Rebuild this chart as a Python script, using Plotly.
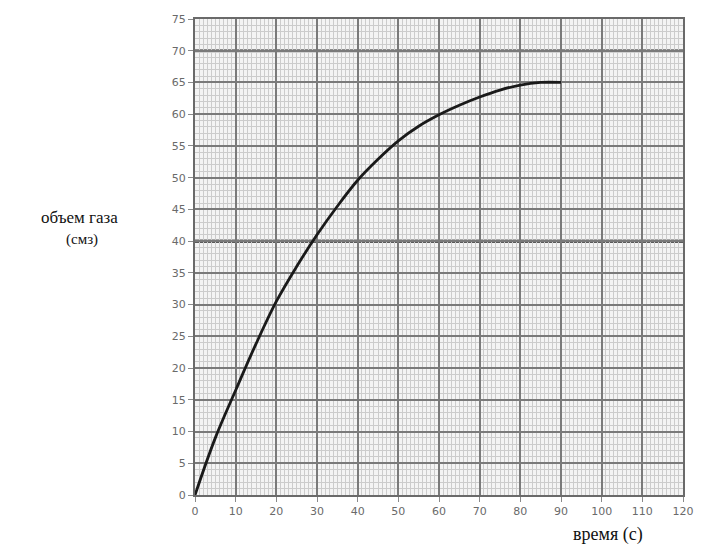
import plotly.graph_objects as go

time_s = [0, 5, 10, 15, 20, 25, 30, 35, 40, 45, 50, 55, 60, 65, 70, 75, 80, 85, 90]
gas_volume = [0, 9, 16.5, 23.8, 30.5, 36, 41, 45.5, 49.6, 52.9, 55.8, 58.1, 59.9, 61.4, 62.7, 63.8, 64.6, 65, 65]

x_ticks = list(range(0, 121, 10))
y_ticks = list(range(0, 76, 5))

fig = go.Figure()
fig.add_trace(go.Scatter(
    x=time_s, y=gas_volume, mode="lines",
    line=dict(color="#1a1a1a", width=2.8, shape="spline"),
    hoverinfo="skip", showlegend=False,
))

tick_font = dict(family="DejaVu Sans", size=11, color="#6a6a6a")
fig.update_xaxes(
    range=[0, 120], tickvals=x_ticks, ticktext=[str(v) for v in x_ticks],
    showgrid=True, gridcolor="#7a7a7a", gridwidth=2,
    minor=dict(dtick=1, showgrid=True, gridcolor="#cccccc", gridwidth=1),
    showline=True, linecolor="#6a6a6a", linewidth=2, mirror=True,
    ticks="outside", ticklen=5, tickcolor="#8a8a8a",
    tickfont=tick_font, zeroline=False, fixedrange=True,
)
fig.update_yaxes(
    range=[0, 75], tickvals=y_ticks, ticktext=[str(v) for v in y_ticks],
    showgrid=True, gridcolor="#7a7a7a", gridwidth=2,
    minor=dict(dtick=1, showgrid=True, gridcolor="#cccccc", gridwidth=1),
    showline=True, linecolor="#6a6a6a", linewidth=2, mirror=True,
    ticks="outside", ticklen=5, tickcolor="#8a8a8a",
    tickfont=tick_font, zeroline=False, fixedrange=True,
)

fig.add_hline(y=40, line=dict(color="#5a5a5a", width=3.5), layer="below")
fig.add_hline(y=70, line=dict(color="#6a6a6a", width=3), layer="below")

serif = "Liberation Serif"
fig.add_annotation(text="объем газа", xref="paper", yref="paper",
                   x=-0.236, y=0.582, xanchor="center", yanchor="middle",
                   showarrow=False, font=dict(family=serif, size=17, color="#111"))
fig.add_annotation(text="(смз)", xref="paper", yref="paper",
                   x=-0.232, y=0.536, xanchor="center", yanchor="middle",
                   showarrow=False, font=dict(family=serif, size=15, color="#111"))
fig.add_annotation(text="время (с)", xref="paper", yref="paper",
                   x=0.846, y=-0.082, xanchor="center", yanchor="middle",
                   showarrow=False, font=dict(family=serif, size=18, color="#111"))

fig.update_layout(
    width=686, height=537,
    margin=dict(l=187, r=11, t=11, b=50, autoexpand=False),
    paper_bgcolor="white", plot_bgcolor="#f4f4f4",
)

fig.write_html("out.html")
